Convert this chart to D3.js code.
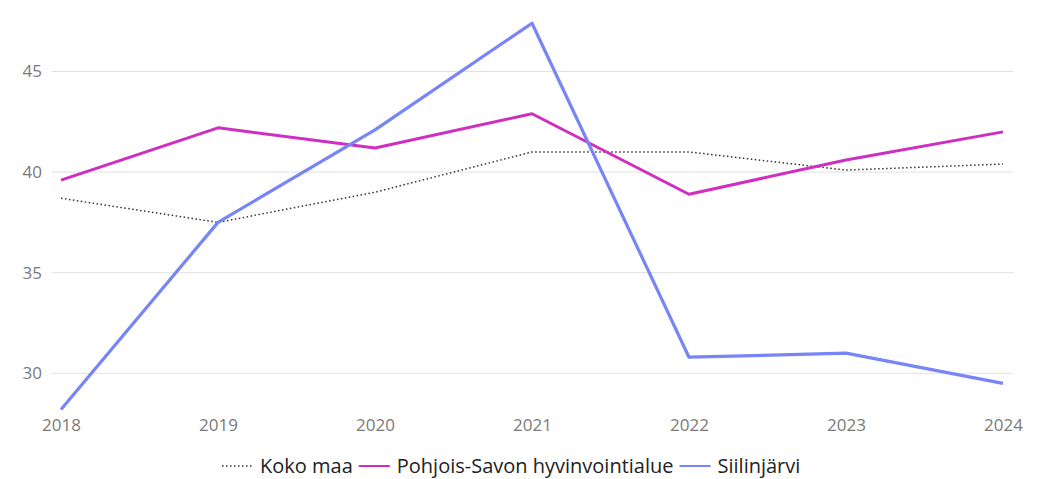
<!DOCTYPE html>
<html><head><meta charset="utf-8">
<script src="https://cdn.jsdelivr.net/npm/d3@7"></script>
<style>body{margin:0;background:#fff;font-family:"Segoe UI","Open Sans","Noto Sans",sans-serif;}</style>
</head><body>
<svg id="c" width="1038" height="479"></svg>
<script>
const years = [2018, 2019, 2020, 2021, 2022, 2023, 2024];
const kokoMaa = [38.7, 37.5, 39.0, 41.0, 41.0, 40.1, 40.4];
const pohjoisSavo = [39.6, 42.2, 41.2, 42.9, 38.9, 40.6, 42.0];
const siilinjarvi = [28.2, 37.5, 42.1, 47.4, 30.8, 31.0, 29.5];
const yTicks = [30, 35, 40, 45];
const seriesNames = ["Koko maa", "Pohjois-Savon hyvinvointialue", "Siilinjärvi"];

const svg = d3.select("#c");
const x = d3.scalePoint().domain(years).range([61, 1003]);
const y = d3.scaleLinear().domain([30, 45]).range([373.3, 71.5]);
const FONT = '"Segoe UI","Open Sans","Noto Sans",sans-serif';

// gridlines
svg.append("g").selectAll("line").data(yTicks).join("line")
  .attr("x1", 52).attr("x2", 1013)
  .attr("y1", d => y(d)).attr("y2", d => y(d))
  .attr("stroke", "#e1e1e1").attr("stroke-width", 1);

// y axis labels
const ya = svg.append("g").attr("transform", "translate(42,0)")
  .call(d3.axisLeft(y).tickValues(yTicks).tickSize(0).tickPadding(0));
ya.select(".domain").remove();
ya.selectAll("text").attr("fill", "#7a7a7a").style("font-size", "17px")
  .style("font-family", FONT);

// x axis labels
const xa = svg.append("g").attr("transform", "translate(0,419)")
  .call(d3.axisBottom(x).tickSize(0).tickPadding(0).tickFormat(d3.format("d")));
xa.select(".domain").remove();
xa.selectAll("text").attr("fill", "#7a7a7a").style("font-size", "17px")
  .style("font-family", FONT);

const line = d3.line().x((d, i) => x(years[i])).y(d => y(d));

const styles = [
  {data: kokoMaa, color: "#333", width: 1.5, dash: "1.5,2.5"},
  {data: pohjoisSavo, color: "#D02EC0", width: 3, dash: null},
  {data: siilinjarvi, color: "#7785F6", width: 3.2, dash: null}
];

styles.forEach(s => {
  svg.append("path").datum(s.data).attr("d", line)
    .attr("fill", "none").attr("stroke", s.color)
    .attr("stroke-width", s.width)
    .attr("stroke-linejoin", "round")
    .attr("stroke-dasharray", s.dash);
});

// legend
const lg = svg.append("g");
let cx = 222;
const ly = 466;
seriesNames.forEach((name, i) => {
  const s = styles[i];
  lg.append("line").attr("x1", cx).attr("x2", cx + 31).attr("y1", ly).attr("y2", ly)
    .attr("stroke", s.color).attr("stroke-width", i === 0 ? 1.5 : 2)
    .attr("stroke-dasharray", s.dash);
  const t = lg.append("text").attr("x", cx + 38).attr("y", ly + 7)
    .text(name).attr("fill", "#222").style("font-size", "20px")
    .style("font-family", FONT);
  cx = cx + 38 + t.node().getComputedTextLength() + 6;
});
</script>
</body></html>
